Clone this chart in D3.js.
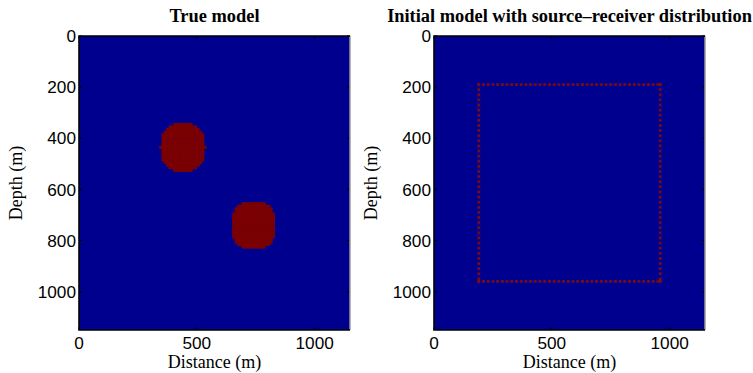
<!DOCTYPE html>
<html>
<head>
<meta charset="utf-8">
<script src="https://cdn.jsdelivr.net/npm/d3@7"></script>
<style>
  html, body { margin: 0; padding: 0; background: #fff; }
  svg { display: block; }
  .tick-label { font-family: "Liberation Sans", Arial, sans-serif; font-size: 17.2px; fill: #000; }
  .axis-title { font-family: "Liberation Serif", "Times New Roman", serif; font-size: 18px; fill: #000; }
  .panel-title { font-family: "Liberation Serif", "Times New Roman", serif; font-size: 18.4px; font-weight: bold; fill: #000; }
</style>
</head>
<body>
<svg id="chart" width="753" height="373"></svg>
<script>
// Model extent (m)
const modelWidth = 1150;
const modelDepth = 1150;
const cellSize = 10;

// Axis ticks
const xTicks = [0, 500, 1000];
const yTicks = [0, 200, 400, 600, 800, 1000];

// Panel titles
const titles = ["True model", "Initial model with source\u2013receiver distribution"];

// Velocity anomalies in the true model: centre x, centre z, radius (m)
const anomalyX = [440, 740];
const anomalyZ = [435, 740];
const anomalyR = [95, 95];

// Source/receiver ring: corner coordinates (m) and station positions along each side
const ringMin = 190;
const ringMax = 960;
const stationPos = [190, 210, 230, 250, 270, 290, 310, 330, 350, 370, 390, 410, 430, 450,
  470, 490, 510, 530, 550, 570, 590, 610, 630, 650, 670, 690, 710, 730, 750, 770, 790,
  810, 830, 850, 870, 890, 910, 930, 950, 960];

const bgColor = "#00008f";
const anomalyColor = "#7d0000";

const svg = d3.select("#chart");

const panelW = 271, panelH = 294, panelTop = 36;
const panelLefts = [79, 434];

function drawPanel(left, title, withAnomalies, withStations) {
  const x = d3.scaleLinear().domain([0, modelWidth]).range([left, left + panelW]);
  const y = d3.scaleLinear().domain([0, modelDepth]).range([panelTop, panelTop + panelH]);
  const g = svg.append("g");

  // background model
  g.append("rect")
    .attr("x", x(0)).attr("y", y(0))
    .attr("width", x(modelWidth) - x(0)).attr("height", y(modelDepth) - y(0))
    .attr("fill", bgColor);

  if (withAnomalies) {
    const cells = [];
    anomalyX.forEach((cx, i) => {
      const r = anomalyR[i], cz = anomalyZ[i];
      for (let gx = Math.floor((cx - r) / cellSize) * cellSize; gx <= cx + r; gx += cellSize) {
        for (let gz = Math.floor((cz - r) / cellSize) * cellSize; gz <= cz + r; gz += cellSize) {
          const dx = gx + cellSize / 2 - cx, dz = gz + cellSize / 2 - cz;
          if (Math.pow(Math.abs(dx), 2.4) + Math.pow(Math.abs(dz), 2.4) <= Math.pow(r, 2.4)) {
            cells.push([gx, gz]);
          }
        }
      }
    });
    g.selectAll("rect.cell").data(cells).join("rect")
      .attr("class", "cell")
      .attr("x", d => x(d[0]))
      .attr("y", d => y(d[1]))
      .attr("width", x(cellSize) - x(0) + 0.4)
      .attr("height", y(cellSize) - y(0) + 0.4)
      .attr("fill", anomalyColor);
  }

  if (withStations) {
    const pts = [];
    stationPos.forEach(p => {
      pts.push([p, ringMin]);
      pts.push([p, ringMax]);
      pts.push([ringMin, p]);
      pts.push([ringMax, p]);
    });
    const s = 1.4;
    const mk = g.selectAll("g.station").data(pts).join("g")
      .attr("class", "station")
      .attr("transform", d => `translate(${x(d[0])},${y(d[1])})`);
    mk.append("path")
      .attr("d", `M${-s},0H${s}M0,${-s}V${s}M${-s},${-s}L${s},${s}M${-s},${s}L${s},${-s}`)
      .attr("stroke", "#860c0c")
      .attr("stroke-width", 0.9)
      .attr("fill", "none");
  }

  // inward tick marks on all four sides
  const tl = 3;
  xTicks.forEach(t => {
    g.append("line").attr("x1", x(t)).attr("x2", x(t)).attr("y1", y(modelDepth)).attr("y2", y(modelDepth) - tl).attr("stroke", "#000");
    g.append("line").attr("x1", x(t)).attr("x2", x(t)).attr("y1", y(0)).attr("y2", y(0) + tl).attr("stroke", "#000");
  });
  yTicks.forEach(t => {
    g.append("line").attr("x1", x(0)).attr("x2", x(0) + tl).attr("y1", y(t)).attr("y2", y(t)).attr("stroke", "#000");
    g.append("line").attr("x1", x(modelWidth)).attr("x2", x(modelWidth) - tl).attr("y1", y(t)).attr("y2", y(t)).attr("stroke", "#000");
  });

  // frame
  g.append("line").attr("x1", x(modelWidth)).attr("x2", x(modelWidth)).attr("y1", y(0)).attr("y2", y(modelDepth))
    .attr("stroke", "#9a9a9a").attr("stroke-width", 1.5);
  g.append("path")
    .attr("d", `M${x(modelWidth)},${y(0)}H${x(0)}V${y(modelDepth)}H${x(modelWidth)}`)
    .attr("stroke", "#000").attr("stroke-width", 1.6).attr("fill", "none");

  // tick labels
  g.selectAll("text.xt").data(xTicks).join("text")
    .attr("class", "tick-label")
    .attr("x", d => x(d)).attr("y", 349)
    .attr("text-anchor", "middle")
    .text(d => d);
  g.selectAll("text.yt").data(yTicks).join("text")
    .attr("class", "tick-label")
    .attr("x", x(0) - 3).attr("y", d => y(d))
    .attr("dy", "0.36em")
    .attr("text-anchor", "end")
    .text(d => d);

  // axis titles
  g.append("text").attr("class", "axis-title")
    .attr("x", x(modelWidth / 2)).attr("y", 368)
    .attr("text-anchor", "middle")
    .text("Distance (m)");
  g.append("text").attr("class", "axis-title")
    .attr("transform", `translate(${left - 57},${y(modelDepth / 2)}) rotate(-90)`)
    .attr("text-anchor", "middle")
    .text("Depth (m)");

  // panel title
  g.append("text").attr("class", "panel-title")
    .attr("x", x(modelWidth / 2)).attr("y", 22)
    .attr("text-anchor", "middle")
    .text(title);
}

drawPanel(panelLefts[0], titles[0], true, false);
drawPanel(panelLefts[1], titles[1], false, true);
</script>
</body>
</html>
